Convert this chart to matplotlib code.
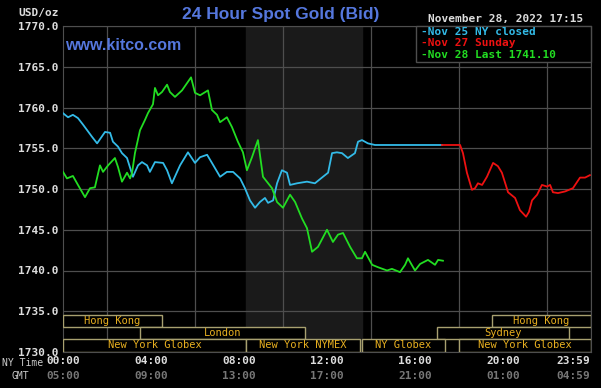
import matplotlib
matplotlib.use("Agg")
import matplotlib.pyplot as plt
from matplotlib.patches import Rectangle
import matplotlib.transforms as mtransforms

# NY time in hours, bid price in USD/oz
nov25_hours = [0.0, 0.23, 0.45, 0.68, 0.91, 1.32, 1.55, 1.91, 2.14, 2.27, 2.5, 2.68, 2.91,
               3.05, 3.18, 3.41, 3.59, 3.82, 3.95, 4.18, 4.55, 4.73, 4.95, 5.32, 5.68, 6.0,
               6.23, 6.55, 6.77, 7.14, 7.45, 7.73, 8.05, 8.27, 8.5, 8.73, 8.95, 9.18, 9.32,
               9.55, 9.73, 9.95, 10.18, 10.32, 10.64, 11.09, 11.45, 11.77, 12.05, 12.23,
               12.45, 12.68, 12.95, 13.27, 13.41, 13.59, 13.86, 14.18, 17.23]
nov25_price = [1759.3, 1758.8, 1759.1, 1758.7, 1757.9, 1756.4, 1755.6, 1757.0, 1756.9,
               1755.8, 1755.2, 1754.4, 1753.8, 1752.6, 1751.5, 1752.9, 1753.3, 1752.9,
               1752.1, 1753.3, 1753.2, 1752.3, 1750.7, 1752.9, 1754.5, 1753.2, 1753.9,
               1754.2, 1753.2, 1751.5, 1752.1, 1752.1, 1751.3, 1750.1, 1748.6, 1747.7,
               1748.4, 1748.9, 1748.3, 1748.6, 1750.7, 1752.3, 1752.0, 1750.5, 1750.7,
               1750.9, 1750.7, 1751.4, 1752.0, 1754.4, 1754.5, 1754.4, 1753.8, 1754.4,
               1755.8, 1756.0, 1755.6, 1755.4, 1755.4]

nov27_hours = [17.23, 18.05, 18.18, 18.36, 18.59, 18.73, 18.86, 19.05, 19.27, 19.55, 19.77,
               19.95, 20.23, 20.55, 20.77, 21.05, 21.18, 21.32, 21.55, 21.77, 22.0, 22.14,
               22.27, 22.5, 22.82, 23.18, 23.5, 23.73, 23.95]
nov27_price = [1755.4, 1755.4, 1754.4, 1752.0, 1749.9, 1750.1, 1750.7, 1750.5, 1751.5,
               1753.2, 1752.8, 1752.0, 1749.6, 1748.9, 1747.4, 1746.6, 1747.2, 1748.6,
               1749.3, 1750.5, 1750.3, 1750.5, 1749.6, 1749.5, 1749.7, 1750.1, 1751.4,
               1751.4, 1751.7]

nov28_hours = [0.0, 0.18, 0.45, 0.68, 1.0, 1.23, 1.45, 1.68, 1.82, 2.05, 2.36, 2.5, 2.68,
               2.91, 3.05, 3.14, 3.27, 3.5, 3.73, 3.86, 4.09, 4.18, 4.32, 4.5, 4.73, 4.86,
               5.09, 5.41, 5.64, 5.82, 6.0, 6.23, 6.59, 6.77, 7.0, 7.14, 7.45, 7.68, 7.95,
               8.18, 8.36, 8.59, 8.86, 9.09, 9.5, 9.73, 10.0, 10.32, 10.55, 10.86, 11.09,
               11.32, 11.59, 12.0, 12.27, 12.5, 12.73, 13.05, 13.36, 13.59, 13.73, 14.05,
               14.32, 14.73, 14.95, 15.32, 15.55, 15.68, 16.0, 16.23, 16.59, 16.91, 17.05,
               17.27]
nov28_price = [1752.1, 1751.3, 1751.6, 1750.5, 1749.0, 1750.1, 1750.2, 1752.9, 1752.1,
               1752.9, 1753.8, 1752.7, 1750.9, 1752.0, 1751.3, 1752.0, 1754.4, 1757.2,
               1758.5, 1759.3, 1760.4, 1762.4, 1761.5, 1761.9, 1762.8, 1761.9, 1761.3,
               1762.1, 1763.0, 1763.7, 1761.8, 1761.5, 1762.1, 1759.7, 1759.1, 1758.2,
               1758.8, 1757.6, 1755.8, 1754.5, 1752.3, 1753.9, 1756.0, 1751.5, 1750.1,
               1748.4, 1747.7, 1749.3, 1748.4, 1746.4, 1745.2, 1742.3, 1742.9, 1745.0,
               1743.5, 1744.4, 1744.6, 1742.9, 1741.5, 1741.5, 1742.3, 1740.7, 1740.4,
               1740.0, 1740.2, 1739.8, 1740.7, 1741.5, 1740.0, 1740.8, 1741.3, 1740.7,
               1741.3, 1741.2]

session_names = ["Hong Kong", "Hong Kong", "London", "Sydney",
                 "New York Globex", "New York NYMEX", "NY Globex", "New York Globex"]
session_start = [0.0, 19.5, 3.5, 17.0, 0.0, 8.33, 13.6, 18.0]
session_end = [4.5, 24.0, 11.0, 23.0, 8.33, 13.5, 17.35, 24.0]
session_row = [0, 0, 1, 1, 2, 2, 2, 2]

ny_ticks = [0, 4, 8, 12, 16, 20, 23.98]
ny_labels = ["00:00", "04:00", "08:00", "12:00", "16:00", "20:00", "23:59"]
gmt_labels = ["05:00", "09:00", "13:00", "17:00", "21:00", "01:00", "04:59"]

mono = "DejaVu Sans Mono"
fig = plt.figure(figsize=(6.01, 3.88), dpi=100, facecolor="black")
ax = fig.add_axes([63 / 601, 36 / 388, 528 / 601, 326 / 388], facecolor="black")
ax.set_xlim(0, 24)
ax.set_ylim(1730, 1770)

# NYMEX pit session shading
ax.axvspan(8.33, 13.6, color="#1a1a1a", zorder=0)
ax.set_xticks(range(0, 25, 2), minor=True)
ax.set_yticks(range(1730, 1771, 5))
ax.grid(True, which="minor", axis="x", color="#4e4e4e", lw=0.9, zorder=1)
ax.grid(True, which="major", axis="y", color="#4e4e4e", lw=0.9, zorder=1)
for s in ax.spines.values():
    s.set_color("#4e4e4e")
ax.set_yticklabels([f"{v:.1f}" for v in range(1730, 1771, 5)], fontfamily=mono,
                   fontweight="bold", fontsize=8, color="#dddddd")
ax.set_xticks(ny_ticks)
ax.set_xticklabels(ny_labels, fontfamily=mono, fontweight="bold", fontsize=8, color="#dddddd")
ax.tick_params(which="both", length=0, pad=3)
ax.get_xticklabels()[-1].set_ha("right")

trans = mtransforms.blended_transform_factory(ax.transData, ax.transAxes)
for i, (t, g) in enumerate(zip(ny_ticks, gmt_labels)):
    ax.text(t, -24 / 326, g, transform=trans, ha="right" if i == len(ny_ticks) - 1 else "center",
            va="center", fontfamily=mono, fontweight="bold", fontsize=8, color="#777777",
            clip_on=False)
fig.text(2 / 601, 1 - 363 / 388, "NY Time", ha="left", va="center", fontfamily=mono,
         fontsize=7, color="#cccccc")
fig.text(11 / 601, 1 - 376 / 388, "GMT", ha="left", va="center", fontfamily=mono,
         fontsize=7, color="#cccccc")
fig.text(18 / 601, 1 - 13 / 388, "USD/oz", ha="left", va="center", fontfamily=mono,
         fontweight="bold", fontsize=8, color="#dddddd")

# trading sessions
row_edges = [(1733.07, 1734.54), (1731.6, 1733.07), (1730.0, 1731.6)]
for name, a, b, r in zip(session_names, session_start, session_end, session_row):
    lo, hi = row_edges[r]
    ax.add_patch(Rectangle((a, lo), b - a, hi - lo, facecolor="black",
                           edgecolor="#a8a070", lw=1.0, zorder=3))
    ax.text((a + b) / 2, (lo + hi) / 2, name, ha="center", va="center", fontfamily=mono,
            fontsize=7.5, color="#e8b020", zorder=4)

ax.plot(nov25_hours, nov25_price, color="#33bbe8", lw=1.3, zorder=5)
ax.plot(nov27_hours, nov27_price, color="#ee1111", lw=1.3, zorder=5)
ax.plot(nov28_hours, nov28_price, color="#22dd22", lw=1.3, zorder=6)

fig.text(281 / 601, 1 - 14 / 388, "24 Hour Spot Gold (Bid)", ha="center", va="center",
         fontfamily="Liberation Sans", fontweight="bold", fontsize=12.5, color="#5577dd")
fig.text(65 / 601, 1 - 46 / 388, "www.kitco.com", ha="left", va="center",
         fontfamily="Liberation Sans", fontweight="bold", fontsize=11.5, color="#5577dd")
fig.text(428 / 601, 1 - 19 / 388, "November 28, 2022 17:15", ha="left", va="center",
         fontfamily=mono, fontweight="bold", fontsize=8, color="#dddddd")

# legend box
fig.patches.append(Rectangle((416 / 601, 1 - 62 / 388), 175 / 601, 36 / 388,
                             transform=fig.transFigure, facecolor="black",
                             edgecolor="#4e4e4e", lw=1.0, zorder=10))
legend_items = ["-Nov 25 NY closed", "-Nov 27 Sunday", "-Nov 28 Last 1741.10"]
legend_colors = ["#33bbe8", "#ee1111", "#22dd22"]
for k, (lab, c) in enumerate(zip(legend_items, legend_colors)):
    fig.text(421 / 601, 1 - (32 + 11.5 * k) / 388, lab, ha="left", va="center",
             fontfamily=mono, fontweight="bold", fontsize=8, color=c, zorder=11)

fig.savefig("out.png", dpi=100, facecolor="black")
